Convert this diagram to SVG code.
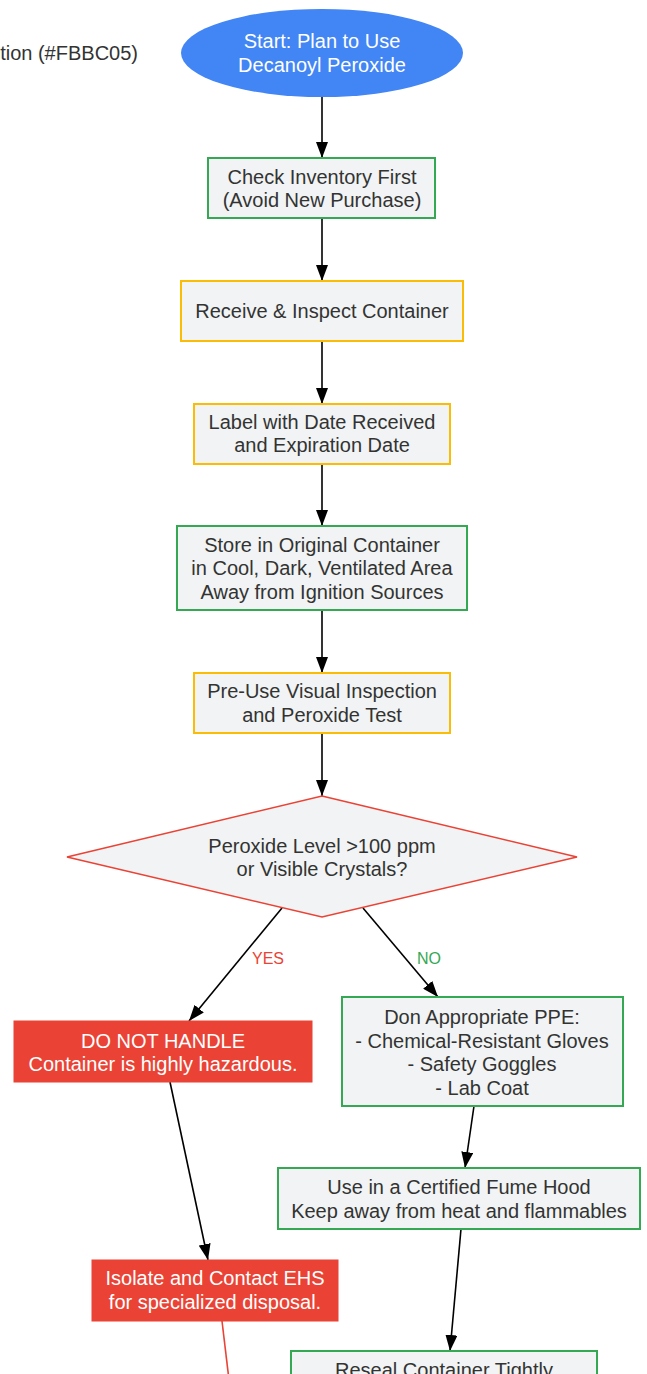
<svg xmlns="http://www.w3.org/2000/svg" width="647" height="1374" viewBox="0 0 647 1374">
<defs>
<marker id="ah" markerUnits="userSpaceOnUse" markerWidth="16" markerHeight="12" refX="16" refY="6" orient="auto">
<path d="M0,0 L16,6 L0,12 z" fill="#000"/>
</marker>
<style>
text{font-family:"Liberation Sans",Arial,sans-serif;font-size:20px;text-anchor:middle;fill:#333333}
.w{fill:#ffffff}
.box{fill:#F1F3F4;stroke-width:2}
.g{stroke:#34A853}
.y{stroke:#FBBC05}
.r{stroke:#EA4335}
.red{fill:#EA4335;stroke:#EA4335;stroke-width:1}
.e{fill:none;stroke:#000;stroke-width:1.6;marker-end:url(#ah)}
.lbl{font-size:16px}
</style>
</defs>
<rect width="647" height="1374" fill="#ffffff"/>
<g id="legend">
<text x="138" y="60" style="text-anchor:end">tion (#FBBC05)</text>
</g>
<g id="connectors">
<line class="e" x1="322" y1="97" x2="322" y2="158"/>
<line class="e" x1="322" y1="218" x2="322" y2="281"/>
<line class="e" x1="322" y1="341" x2="322" y2="404"/>
<line class="e" x1="322" y1="464" x2="322" y2="526"/>
<line class="e" x1="322" y1="610" x2="322" y2="673"/>
<line class="e" x1="322" y1="733" x2="322" y2="796"/>
<line class="e" x1="282" y1="908" x2="189" y2="1021"/>
<line class="e" x1="363" y1="908" x2="438" y2="997"/>
<line class="e" x1="170" y1="1082" x2="208" y2="1260"/>
<line class="e" x1="474" y1="1106" x2="465" y2="1168"/>
<line class="e" x1="461" y1="1229" x2="450" y2="1351"/>
<line x1="222" y1="1321" x2="229" y2="1380" stroke="#EA4335" stroke-width="1.6"/>
<text class="lbl" x="268" y="964" style="fill:#EA4335">YES</text>
<text class="lbl" x="429" y="964" style="fill:#34A853">NO</text>
</g>
<g id="start">
<ellipse cx="322" cy="53" rx="141" ry="44" fill="#4285F4"/>
<text class="w" x="322" y="48">Start: Plan to Use</text>
<text class="w" x="322" y="72">Decanoyl Peroxide</text>
</g>
<g id="inventory">
<rect class="box g" x="208" y="158" width="227" height="60"/>
<text x="322" y="184">Check Inventory First</text>
<text x="322" y="207">(Avoid New Purchase)</text>
</g>
<g id="receive">
<rect class="box y" x="181" y="281" width="282" height="60"/>
<text x="322" y="318">Receive &amp; Inspect Container</text>
</g>
<g id="label">
<rect class="box y" x="194" y="404" width="256" height="60"/>
<text x="322" y="429">Label with Date Received</text>
<text x="322" y="452">and Expiration Date</text>
</g>
<g id="store">
<rect class="box g" x="177" y="526" width="290" height="84"/>
<text x="322" y="552">Store in Original Container</text>
<text x="322" y="575">in Cool, Dark, Ventilated Area</text>
<text x="322" y="599">Away from Ignition Sources</text>
</g>
<g id="preuse">
<rect class="box y" x="194" y="673" width="256" height="60"/>
<text x="322" y="698">Pre-Use Visual Inspection</text>
<text x="322" y="722">and Peroxide Test</text>
</g>
<g id="decision">
<polygon class="box r" points="322,796 577,857 322,917 67,857" style="stroke-width:1.6"/>
<text x="322" y="853">Peroxide Level &gt;100 ppm</text>
<text x="322" y="876">or Visible Crystals?</text>
</g>
<g id="donothandle">
<rect class="red" x="14" y="1021" width="298" height="61"/>
<text class="w" x="163" y="1048">DO NOT HANDLE</text>
<text class="w" x="163" y="1071">Container is highly hazardous.</text>
</g>
<g id="ppe">
<rect class="box g" x="342" y="997" width="281" height="109"/>
<text x="482" y="1024">Don Appropriate PPE:</text>
<text x="482" y="1048">- Chemical-Resistant Gloves</text>
<text x="482" y="1071">- Safety Goggles</text>
<text x="482" y="1095">- Lab Coat</text>
</g>
<g id="fumehood">
<rect class="box g" x="278" y="1168" width="362" height="61"/>
<text x="459" y="1194">Use in a Certified Fume Hood</text>
<text x="459" y="1218">Keep away from heat and flammables</text>
</g>
<g id="isolate">
<rect class="red" x="92" y="1260" width="246" height="61"/>
<text class="w" x="215" y="1285">Isolate and Contact EHS</text>
<text class="w" x="215" y="1309">for specialized disposal.</text>
</g>
<g id="reseal">
<rect class="box g" x="291" y="1351" width="306" height="60"/>
<text x="444" y="1377">Reseal Container Tightly</text>
</g>
</svg>
